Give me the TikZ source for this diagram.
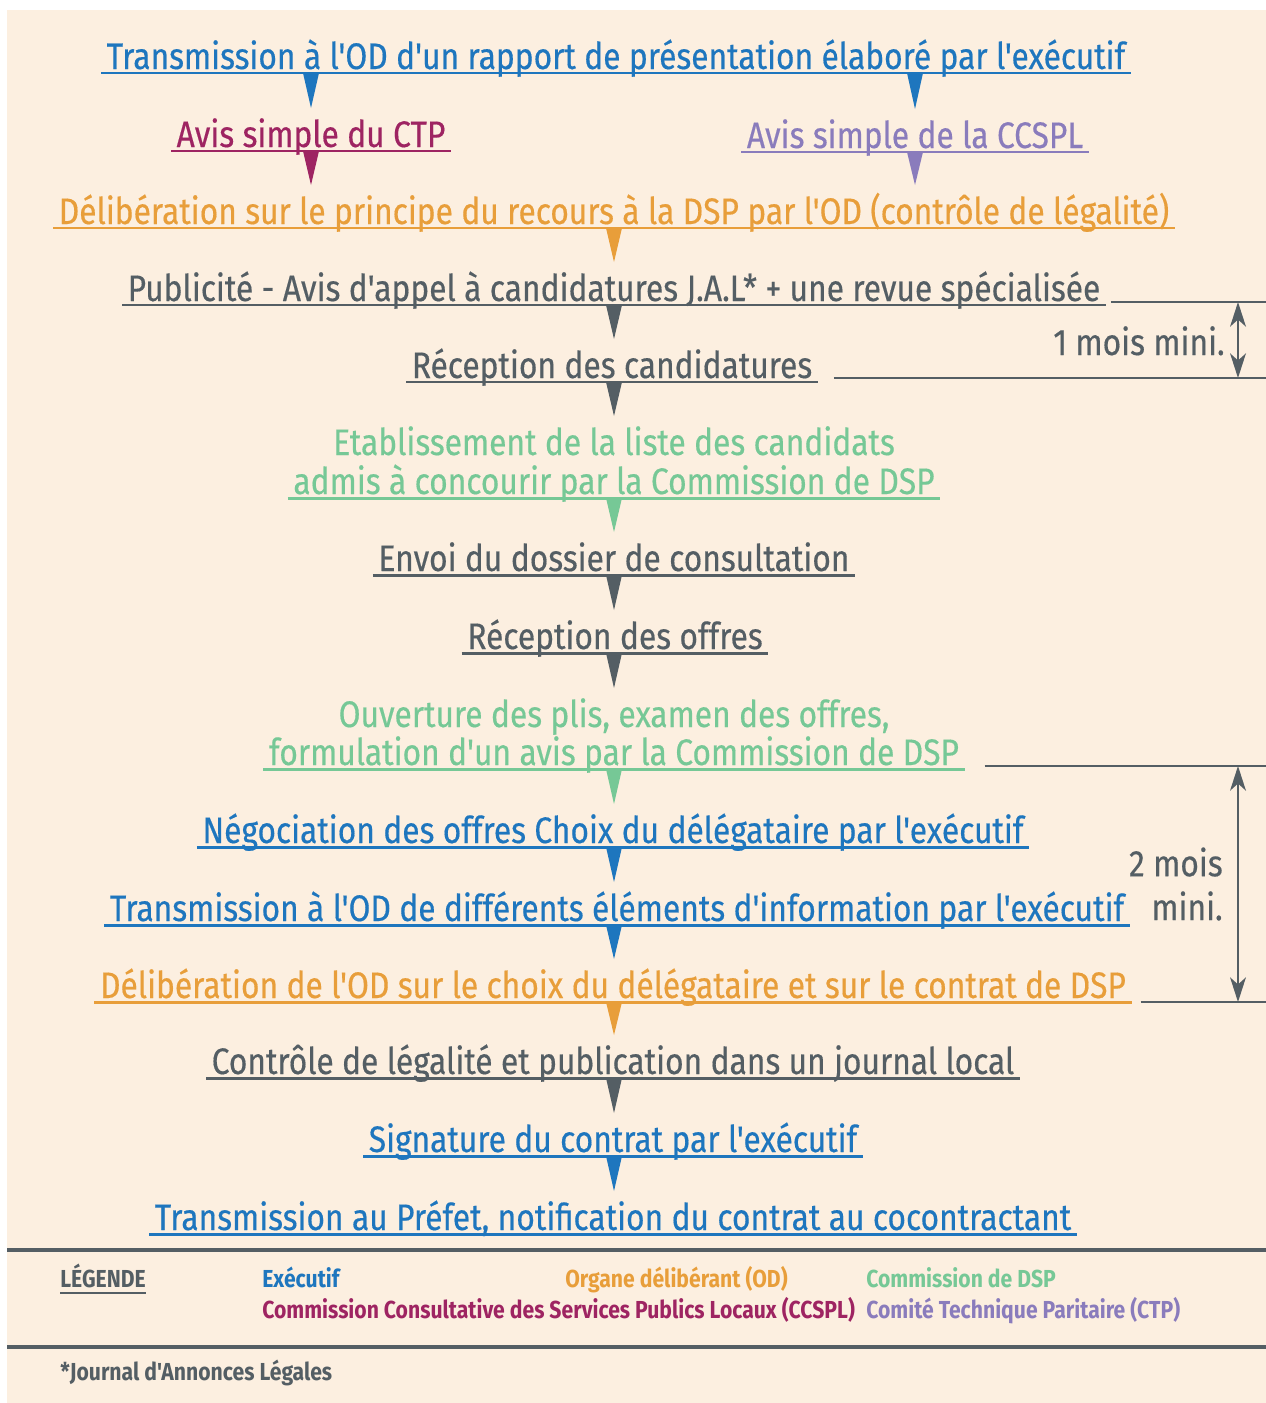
\documentclass[tikz,border=0pt]{standalone}
\usepackage{fontspec}
\setmainfont{Fira Sans}[FakeStretch=0.86,FakeBold=0.4,Ligatures=TeXOff]
\newfontfamily\legfont{Fira Sans}[FakeStretch=0.86]
\usetikzlibrary{calc,arrows.meta}

\definecolor{fond}{RGB}{252,239,224}
\definecolor{bleuexe}{RGB}{30,118,190}
\definecolor{orangeod}{RGB}{232,158,58}
\definecolor{vertdsp}{RGB}{118,200,150}
\definecolor{grisflux}{RGB}{84,94,100}
\definecolor{magctp}{RGB}{158,36,98}
\definecolor{violccspl}{RGB}{138,124,188}

\newcommand{\etapefont}{\fontsize{21}{25}\selectfont}
\newcommand{\legendefont}{\legfont\bfseries\fontsize{14}{16}\selectfont}

% fleche en pointe : couleur, depart, arrivee, noeud qui donne le x
\newcommand{\fleche}[4]{%
  \path (#2.base -| #4.base) ++(0,4) coordinate (fa)
        (#3.base -| #4.base) ++(0,-39) coordinate (fb);
  \fill[#1] (fa) ++(-8,0) -- ++(16,0) -- (fb) -- cycle;
}

\tikzset{
  etape/.style={font=\etapefont, anchor=base, inner xsep=3pt, inner ysep=1pt, text=#1},
  legende/.style={font=\legendefont, anchor=base west, inner sep=0pt, text=#1},
  cote/.style={draw=grisflux, line width=1.2pt},
  pointes/.style={{Stealth[length=14pt,width=9pt,inset=4pt]}-{Stealth[length=14pt,width=9pt,inset=4pt]}},
  souligne/.style={line width=1.7pt}
}

\begin{document}
\begin{tikzpicture}[x=0.02cm,y=-0.02cm]

\useasboundingbox (0,0) rectangle (1266,1403);
\fill[white] (0,0) rectangle (1266,1403);
\fill[fond] (7,10) rectangle (1266,1403);

% les etapes
\node[etape=bleuexe] (t1) at (616,69) {Transmission à l'OD d'un rapport de présentation élaboré par l'exécutif};
\node[etape=magctp] (ctp) at (311,147) {Avis simple du CTP};
\node[etape=violccspl] (ccspl) at (915,148) {Avis simple de la CCSPL};
\node[etape=orangeod] (delibp) at (614,224) {Délibération sur le principe du recours à la DSP par l'OD (contrôle de légalité)};
\node[etape=grisflux] (pub) at (614,301) {Publicité - Avis d'appel à candidatures J.A.L* + une revue spécialisée};
\node[etape=grisflux] (reccand) at (612,378) {Réception des candidatures};
\node[etape=vertdsp] (liste) at (614,455) {Etablissement de la liste des candidats};
\node[etape=vertdsp] (admis) at (614,494) {admis à concourir par la Commission de DSP};
\node[etape=grisflux] (envoi) at (614,571) {Envoi du dossier de consultation};
\node[etape=grisflux] (recoff) at (615,649) {Réception des offres};
\node[etape=vertdsp] (plis) at (614,727) {Ouverture des plis, examen des offres,};
\node[etape=vertdsp] (avis) at (614,765) {formulation d'un avis par la Commission de DSP};
\node[etape=bleuexe] (nego) at (613,843) {Négociation des offres Choix du délégataire par l'exécutif};
\node[etape=bleuexe] (trinfo) at (617,921) {Transmission à l'OD de différents éléments d'information par l'exécutif};
\node[etape=orangeod] (delibc) at (613,998) {Délibération de l'OD sur le choix du délégataire et sur le contrat de DSP};
\node[etape=grisflux] (ctrl) at (613,1074) {Contrôle de légalité et publication dans un journal local};
\node[etape=bleuexe] (sign) at (613,1152) {Signature du contrat par l'exécutif};
\node[etape=bleuexe] (prefet) at (613,1230) {Transmission au Préfet, notification du contrat au cocontractant};

% soulignements
\foreach \n/\c in {t1/bleuexe, ctp/magctp, ccspl/violccspl, delibp/orangeod, pub/grisflux,
                   reccand/grisflux, admis/vertdsp, envoi/grisflux, recoff/grisflux, avis/vertdsp,
                   nego/bleuexe, trinfo/bleuexe, delibc/orangeod, ctrl/grisflux, sign/bleuexe, prefet/bleuexe}
  \draw[\c, souligne] ($(\n.base west)+(0,4)$) -- ($(\n.base east)+(0,4)$);

% fleches
\fleche{bleuexe}{t1}{ctp}{ctp}
\fleche{bleuexe}{t1}{ccspl}{ccspl}
\fleche{magctp}{ctp}{delibp}{ctp}
\fleche{violccspl}{ccspl}{delibp}{ccspl}
\foreach \a/\b/\c in {delibp/pub/orangeod, pub/reccand/grisflux, reccand/liste/grisflux,
                      admis/envoi/vertdsp, envoi/recoff/grisflux, recoff/plis/grisflux,
                      avis/nego/vertdsp, nego/trinfo/bleuexe, trinfo/delibc/bleuexe,
                      delibc/ctrl/orangeod, ctrl/sign/grisflux, sign/prefet/bleuexe}
  {\fleche{\c}{\a}{\b}{envoi}}

% delais
\coordinate (bord) at (1266,0);
\coordinate (axe) at (1238,0);
\draw[cote] (pub.base east) ++(5,1) coordinate (h1) -- (h1 -| bord);
\draw[cote] (reccand.base east) ++(16,0) coordinate (h2) -- (h2 -| bord);
\draw[cote] (avis.base east) ++(20,1) coordinate (h3) -- (h3 -| bord);
\draw[cote] (delibc.base east) ++(9,4) coordinate (h4) -- (h4 -| bord);
\draw[cote, pointes] (h1 -| axe) -- (h2 -| axe);
\draw[cote, pointes] (h3 -| axe) -- (h4 -| axe);
\node[etape=grisflux, anchor=base east, inner xsep=0pt] (un) at (1225,355) {1 mois mini.};
\node[font=\etapefont, text=grisflux, align=right, anchor=east, inner sep=0pt] (deux) at (1223,884)
  {\fontsize{21}{18}\selectfont 2 mois\\mini.};

% legende
\draw[grisflux, line width=2.8pt] (7,1250) -- (1266,1250);
\draw[grisflux, line width=2.8pt] (7,1347) -- (1266,1347);
\node[legende=grisflux] (leg) at (60,1287) {LÉGENDE};
\draw[grisflux, line width=1.2pt] ($(leg.base west)+(0,6)$) -- ($(leg.base east)+(0,6)$);
\node[legende=bleuexe] (lexe) at (262,1287) {Exécutif};
\node[legende=orangeod] (lod) at (565,1287) {Organe délibérant (OD)};
\node[legende=vertdsp] (ldsp) at (866,1287) {Commission de DSP};
\node[legende=magctp] (lccspl) at (262,1318) {Commission Consultative des Services Publics Locaux (CCSPL)};
\node[legende=violccspl] (lctp) at (866,1318) {Comité Technique Paritaire (CTP)};
\node[legende=grisflux] (jal) at (60,1380) {*Journal d'Annonces Légales};

\end{tikzpicture}
\end{document}
